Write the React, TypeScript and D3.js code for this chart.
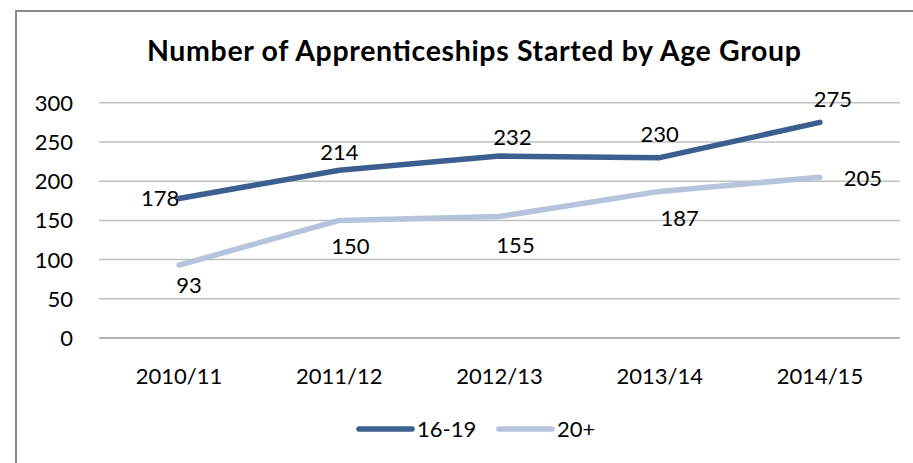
import React from "react";
import * as d3 from "d3";

const categories = ["2010/11", "2011/12", "2012/13", "2013/14", "2014/15"];
const seriesNames = ["16-19", "20+"];
const values1619 = [178, 214, 232, 230, 275];
const values20 = [93, 150, 155, 187, 205];
const yTicks = [0, 50, 100, 150, 200, 250, 300];
const title = "Number of Apprenticeships Started by Age Group";

// label offsets (style, not data): [dx, dy]
const labelOffsets1619: [number, number][] = [[-19, 8], [0, -10], [13, -11], [0, -16], [13, -15]];
const labelOffsets20: [number, number][] = [[10, 28], [11, 34], [16, 37], [20, 35], [43, 9]];

const W = 913;
const H = 463;
const FONT = "Lato, 'Open Sans', sans-serif";
const colors = ["#3b5f8e", "#b5c3dc"];

export default function App() {
  const x = d3.scaleBand<string>().domain(categories).range([99, 900]);
  const y = d3.scaleLinear().domain([0, 300]).range([338, 102.8]);
  const cx = (c: string) => (x(c) as number) + x.bandwidth() / 2;
  const line = d3
    .line<number>()
    .x((_, i) => cx(categories[i]))
    .y((d) => y(d));

  const series = [
    { name: seriesNames[0], values: values1619, offs: labelOffsets1619, color: colors[0] },
    { name: seriesNames[1], values: values20, offs: labelOffsets20, color: colors[1] },
  ];

  return (
    <svg
      width={W}
      height={H}
      style={{ position: "absolute", left: 0, top: 0, background: "#fff" }}
      fontFamily={FONT}
    >
      <rect x={0} y={0} width={W} height={H} fill="#fff" />
      <path d={`M16,${H + 5} L16,11 L${W + 5},11`} fill="none" stroke="#8a8a8a" strokeWidth={2} />
      <text
        x={474}
        y={61}
        textAnchor="middle"
        fontSize={28.5}
        fontWeight="bold"
        fill="#000"
        textLength={654}
        lengthAdjust="spacing"
      >
        {title}
      </text>
      {yTicks.map((t) => (
        <g key={t}>
          <line
            x1={99}
            x2={900}
            y1={y(t)}
            y2={y(t)}
            stroke={t === 0 ? "#9a9a9a" : "#c0c0c0"}
            strokeWidth={1.5}
          />
          <text x={73} y={y(t) + 8} textAnchor="end" fontSize={22} fill="#000">
            {t}
          </text>
        </g>
      ))}
      {categories.map((c) => (
        <text key={c} x={cx(c)} y={384} textAnchor="middle" fontSize={22} fill="#000">
          {c}
        </text>
      ))}
      {series.map((s) => (
        <path
          key={s.name}
          d={line(s.values) as string}
          fill="none"
          stroke={s.color}
          strokeWidth={5.5}
          strokeLinecap="round"
          strokeLinejoin="round"
        />
      ))}
      {series.map((s) =>
        s.values.map((v, i) => (
          <text
            key={s.name + i}
            x={cx(categories[i]) + s.offs[i][0]}
            y={y(v) + s.offs[i][1]}
            textAnchor="middle"
            fontSize={22}
            fill="#000"
          >
            {v}
          </text>
        ))
      )}
      {series.map((s, i) => {
        const lx = i === 0 ? 359 : 499;
        return (
          <g key={"leg" + s.name}>
            <line
              x1={lx}
              x2={lx + 53}
              y1={429}
              y2={429}
              stroke={s.color}
              strokeWidth={5.5}
              strokeLinecap="round"
            />
            <text x={lx + 58} y={437} fontSize={22} fill="#000">
              {s.name}
            </text>
          </g>
        );
      })}
    </svg>
  );
}
